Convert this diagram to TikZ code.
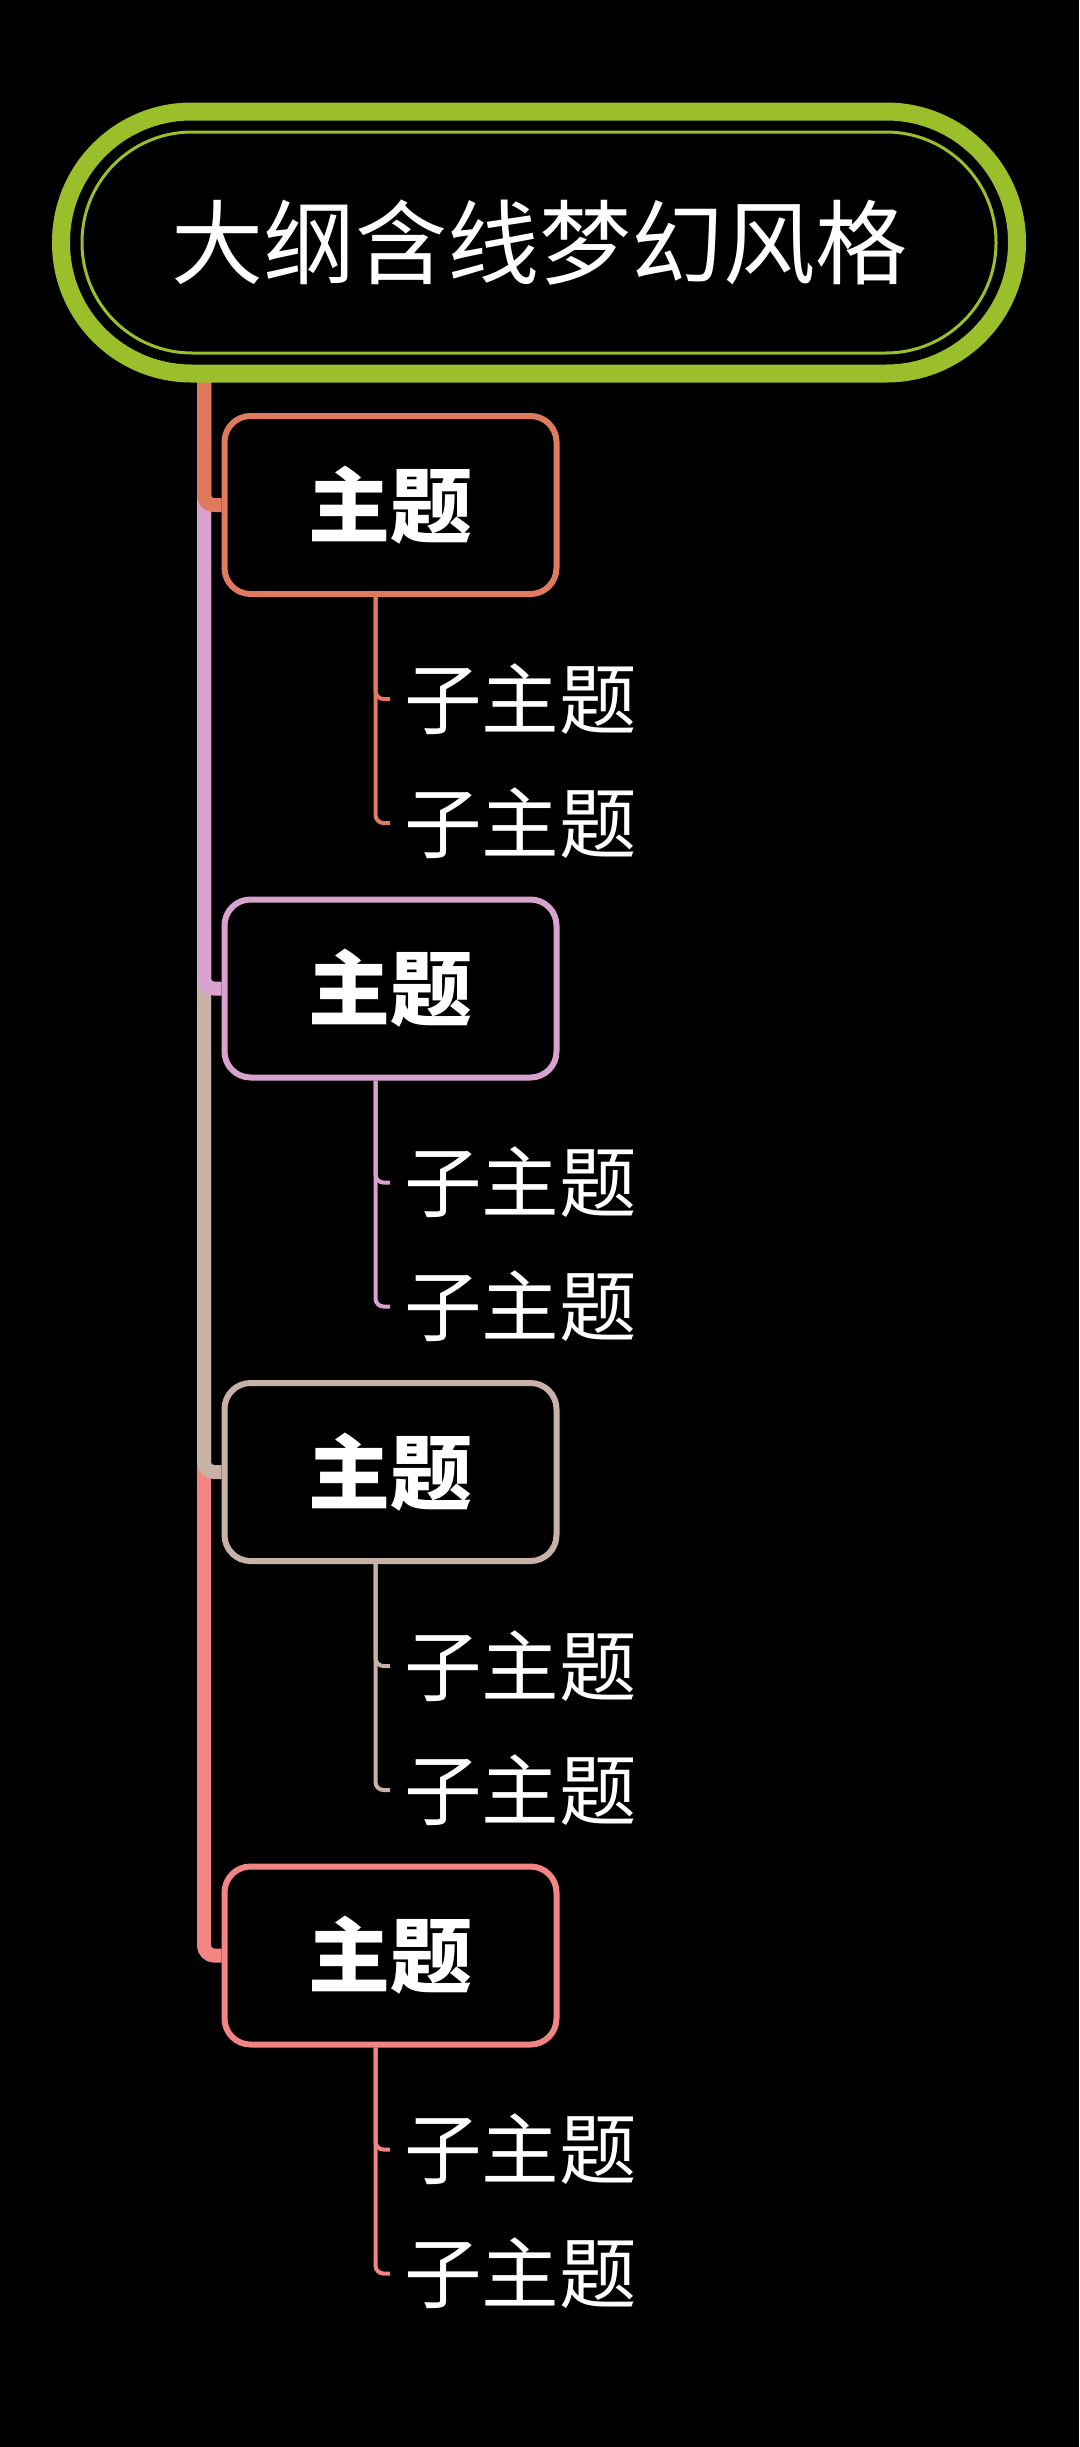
\documentclass[tikz,border=0pt]{standalone}
\usepackage{fontspec}
\setmainfont{Noto Sans CJK SC}
\definecolor{cgreen}{HTML}{9ABF2B}
\definecolor{corange}{HTML}{E07A5F}
\definecolor{cpink}{HTML}{D9A2CE}
\definecolor{ctan}{HTML}{C8B1A7}
\definecolor{csalmon}{HTML}{F28482}
\pgfdeclarelayer{bg}
\pgfdeclarelayer{lines}
\pgfsetlayers{bg,lines,main}
\begin{document}
\begin{tikzpicture}[x=1pt,y=-1pt,
  rootbox/.style={draw=cgreen, line width=3pt, fill=black, rounded corners=110pt,
    minimum width=914pt, minimum height=221pt, inner sep=0pt, text=white,
    font=\fontsize{92}{92}\selectfont, text height=76.4pt, text depth=6.4pt},
  topicbox/.style={draw=#1, line width=6pt, fill=black, rounded corners=26pt,
    minimum width=332pt, minimum height=178pt, inner sep=0pt, text=white,
    font=\fontsize{82}{82}\selectfont\bfseries, text height=68pt, text depth=5.7pt},
  subtext/.style={anchor=west, inner sep=0pt, text=white,
    font=\fontsize{77.5}{77.5}\selectfont, text height=64.3pt, text depth=5.4pt},
  trunk/.style={draw=#1, line width=14pt, rounded corners=10pt},
  subline/.style={draw=#1, line width=4pt, rounded corners=8pt}
]
\begin{pgfonlayer}{bg}
  \fill[black] (0,0) rectangle (1079,2447);
\end{pgfonlayer}
\useasboundingbox (0,0) rectangle (1079,2447);

% root
\node[rootbox] (root) at (539,242.5) {大纲含线梦幻风格};
\draw[cgreen, line width=18pt, rounded corners=130.5pt]
  ([shift={(-478,-131)}]root.center) rectangle ([shift={(478,131)}]root.center);
\coordinate (trunktop) at (204,372);

% topics
\node[topicbox=corange] (t1) at (390.5,505) {主题};
\node[topicbox=cpink]   (t2) at (390.5,988.5) {主题};
\node[topicbox=ctan]    (t3) at (390.5,1472) {主题};
\node[topicbox=csalmon] (t4) at (390.5,1955.5) {主题};

% subtopics
\node[subtext] (s11) at (404,699) {子主题};
\node[subtext] (s12) at (404,823) {子主题};
\node[subtext] (s21) at (404,1182.5) {子主题};
\node[subtext] (s22) at (404,1306.5) {子主题};
\node[subtext] (s31) at (404,1666) {子主题};
\node[subtext] (s32) at (404,1790) {子主题};
\node[subtext] (s41) at (404,2149.5) {子主题};
\node[subtext] (s42) at (404,2273.5) {子主题};

\begin{pgfonlayer}{lines}
  \draw[trunk=csalmon] (trunktop) |- (t4.west);
  \draw[trunk=ctan]    (trunktop) |- (t3.west);
  \draw[trunk=cpink]   (trunktop) |- (t2.west);
  \draw[trunk=corange] (trunktop) |- (t1.west);

  \draw[subline=corange] ([xshift=-15pt]t1.south) |- ([xshift=-14pt]s12.west);
  \draw[subline=corange] ([xshift=-15pt]t1.south) |- ([xshift=-14pt]s11.west);
  \draw[subline=cpink] ([xshift=-15pt]t2.south) |- ([xshift=-14pt]s22.west);
  \draw[subline=cpink] ([xshift=-15pt]t2.south) |- ([xshift=-14pt]s21.west);
  \draw[subline=ctan] ([xshift=-15pt]t3.south) |- ([xshift=-14pt]s32.west);
  \draw[subline=ctan] ([xshift=-15pt]t3.south) |- ([xshift=-14pt]s31.west);
  \draw[subline=csalmon] ([xshift=-15pt]t4.south) |- ([xshift=-14pt]s42.west);
  \draw[subline=csalmon] ([xshift=-15pt]t4.south) |- ([xshift=-14pt]s41.west);
\end{pgfonlayer}
\end{tikzpicture}
\end{document}
